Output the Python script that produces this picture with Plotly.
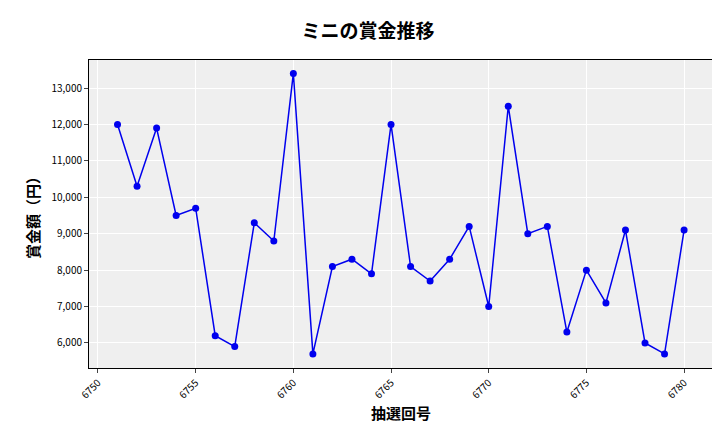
import plotly.graph_objects as go

draws = list(range(6751, 6781))
prizes = [12000, 10300, 11900, 9500, 9700, 6200, 5900, 9300, 8800, 13400,
          5700, 8100, 8300, 7900, 12000, 8100, 7700, 8300, 9200, 7000,
          12500, 9000, 9200, 6300, 8000, 7100, 9100, 6000, 5700, 9100]
font = "Noto Sans CJK JP"

fig = go.Figure(go.Scatter(x=draws, y=prizes, mode="lines+markers",
                           line=dict(color="#0000ee", width=1.5),
                           marker=dict(color="#0000ee", size=7)))
fig.update_layout(
    width=720, height=432, margin=dict(l=81, r=15, t=52, b=72, autoexpand=False),
    paper_bgcolor="white", plot_bgcolor="#efefef",
    font=dict(family=font, size=10, color="black"),
    title=dict(text="<b>ミニの賞金推移</b>", x=0.5, xanchor="center",
               y=0.945, yanchor="middle", font=dict(size=19)),
    showlegend=False,
)
fig.update_xaxes(range=[6749.54, 6781.48], tickvals=list(range(6750, 6781, 5)),
                 tickangle=-45, gridcolor="white", showline=True, linecolor="black",
                 mirror=True, ticks="outside", ticklen=4, automargin=False,
                 title=dict(text="<b>抽選回号</b>", font=dict(size=15), standoff=8))
fig.update_yaxes(range=[5313, 13769], tickvals=list(range(6000, 13001, 1000)),
                 tickformat=",", gridcolor="white", showline=True, linecolor="black",
                 mirror=True, ticks="outside", ticklen=4, automargin=False,
                 title=dict(text="<b>賞金額（円）</b>", font=dict(size=15), standoff=8))
fig.write_html("out.html")
